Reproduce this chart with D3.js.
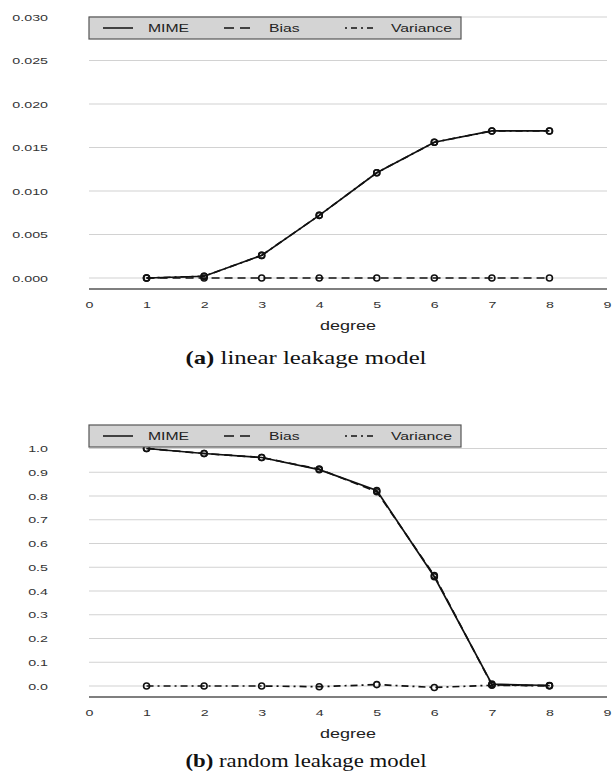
<!DOCTYPE html>
<html>
<head>
<meta charset="utf-8">
<script src="https://cdn.jsdelivr.net/npm/d3@7"></script>
<style>
  body { margin: 0; background: #fff; }
  svg { display: block; }
</style>
</head>
<body>
<svg id="chart" width="613" height="771"></svg>
<script>
"use strict";

// degrees on the x axis
const degrees = [1, 2, 3, 4, 5, 6, 7, 8];
const xTicks = [0, 1, 2, 3, 4, 5, 6, 7, 8, 9];

// (a) linear leakage model
const linearMime = [0, 0.0002, 0.0026, 0.0072, 0.0121, 0.0156, 0.0169, 0.0169];
const linearBias = [0, 0, 0, 0, 0, 0, 0, 0];
const linearVariance = [0, 0.0002, 0.0026, 0.0072, 0.0121, 0.0156, 0.0169, 0.0169];
const linearTicks = [0, 0.005, 0.010, 0.015, 0.020, 0.025, 0.030];

// (b) random leakage model
const randomMime = [1.0, 0.979, 0.962, 0.911, 0.823, 0.46, 0.008, 0.002];
const randomBias = [1.0, 0.979, 0.962, 0.913, 0.818, 0.465, 0.005, 0.001];
const randomVariance = [0.0, 0.0, 0.0, -0.003, 0.006, -0.006, 0.003, 0.001];
const randomTicks = [0, 0.1, 0.2, 0.3, 0.4, 0.5, 0.6, 0.7, 0.8, 0.9, 1.0];

const seriesNames = ["MIME", "Bias", "Variance"];
const dashes = { MIME: null, Bias: "8,5", Variance: "7,4,2,4" };

const svg = d3.select("#chart");
const sans = "'Liberation Sans', Arial, sans-serif";
const stretch = 1.5;   // the original figure is stretched horizontally

const x = d3.scaleLinear().domain([0, 9]).range([89, 607]);

function drawPanel(cfg) {
    const g = svg.append("g");
    const y = d3.scaleLinear().domain([0, cfg.ticks[cfg.ticks.length - 1]])
        .range([cfg.y0, cfg.yTop]);

    // gridlines
    g.append("g").selectAll("line")
        .data(cfg.ticks)
        .enter().append("line")
        .attr("x1", x(0)).attr("x2", x(9))
        .attr("y1", d => y(d)).attr("y2", d => y(d))
        .attr("stroke", "#d2d2d2").attr("stroke-width", 1.2);

    // x axis base line
    g.append("line")
        .attr("x1", x(0)).attr("x2", x(9))
        .attr("y1", cfg.axisY).attr("y2", cfg.axisY)
        .attr("stroke", "#555").attr("stroke-width", 1.5);

    // y tick labels
    const yAxis = g.append("g")
        .attr("transform", "translate(48,0)")
        .call(d3.axisLeft(y).tickValues(cfg.ticks).tickFormat(cfg.fmt).tickSize(0).tickPadding(0));
    yAxis.select(".domain").remove();
    yAxis.selectAll("text")
        .attr("font-family", sans).attr("font-size", 9.5).attr("fill", "#333")
        .attr("transform", `scale(${stretch},1)`);

    // x tick labels
    const xAxis = g.append("g")
        .attr("transform", `translate(0,${cfg.axisY + 12})`)
        .call(d3.axisBottom(x).tickValues(xTicks).tickFormat(d3.format("d")).tickSize(0).tickPadding(0));
    xAxis.select(".domain").remove();
    xAxis.selectAll("text")
        .attr("font-family", sans).attr("font-size", 9.5).attr("fill", "#333")
        .attr("transform", `scale(${stretch},1)`);

    // axis title
    g.append("text")
        .attr("transform", `translate(${(x(0) + x(9)) / 2},${cfg.axisY + 41}) scale(${stretch},1)`)
        .attr("text-anchor", "middle")
        .attr("font-family", sans).attr("font-size", 12).attr("fill", "#222")
        .text("degree");

    // caption
    const cap = g.append("text")
        .attr("x", 306).attr("y", cfg.captionY)
        .attr("text-anchor", "middle")
        .attr("font-family", "'Liberation Serif', 'Times New Roman', serif")
        .attr("font-size", 19).attr("fill", "#111")
        .attr("textLength", 241).attr("lengthAdjust", "spacingAndGlyphs");
    cap.append("tspan").attr("font-weight", "bold").text(cfg.label);
    cap.append("tspan").text(" " + cfg.caption);

    // series lines and markers
    const line = d3.line().x((d, i) => x(degrees[i])).y(d => y(d));
    seriesNames.forEach(name => {
        g.append("path")
            .attr("d", line(cfg.series[name]))
            .attr("fill", "none")
            .attr("stroke", "#111")
            .attr("stroke-width", 1.7)
            .attr("stroke-dasharray", dashes[name]);
    });
    seriesNames.forEach(name => {
        g.append("g").selectAll("circle")
            .data(cfg.series[name])
            .enter().append("circle")
            .attr("cx", (d, i) => x(degrees[i]))
            .attr("cy", d => y(d))
            .attr("r", 3)
            .attr("fill", "none")
            .attr("stroke", "#111")
            .attr("stroke-width", 1.6);
    });

    // legend
    const lg = g.append("g").attr("transform", `translate(89,${cfg.legendY})`);
    lg.append("rect")
        .attr("width", 372).attr("height", 22)
        .attr("fill", "#d4d4d4").attr("stroke", "#555").attr("stroke-width", 1.2);
    const entries = [
        { name: "MIME", x1: 14, x2: 44, tx: 59 },
        { name: "Bias", x1: 135, x2: 161, tx: 180 },
        { name: "Variance", x1: 256, x2: 286, tx: 302 }
    ];
    entries.forEach(e => {
        lg.append("line")
            .attr("x1", e.x1).attr("x2", e.x2)
            .attr("y1", 11).attr("y2", 11)
            .attr("stroke", "#111").attr("stroke-width", 1.5)
            .attr("stroke-dasharray", e.name === "Variance" ? "2,4,6,4" : (e.name === "Bias" ? "10,6" : null));
        lg.append("text")
            .attr("transform", `translate(${e.tx},15) scale(${stretch},1)`)
            .attr("font-family", sans).attr("font-size", 10.5).attr("fill", "#222")
            .text(e.name);
    });
}

drawPanel({
    ticks: linearTicks,
    fmt: d3.format(".3f"),
    y0: 278, yTop: 17,
    axisY: 289,
    legendY: 17,
    captionY: 364,
    label: "(a)",
    caption: "linear leakage model",
    series: { MIME: linearMime, Bias: linearBias, Variance: linearVariance }
});

drawPanel({
    ticks: randomTicks,
    fmt: d3.format(".1f"),
    y0: 686, yTop: 448.5,
    axisY: 697,
    legendY: 425,
    captionY: 767,
    label: "(b)",
    caption: "random leakage model",
    series: { MIME: randomMime, Bias: randomBias, Variance: randomVariance }
});
</script>
</body>
</html>
